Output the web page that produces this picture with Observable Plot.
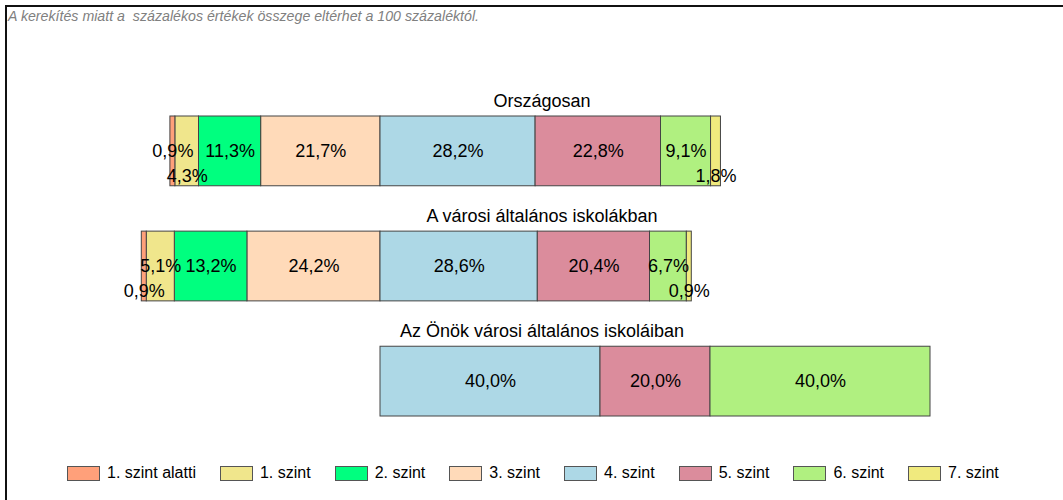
<!DOCTYPE html>
<html><head><meta charset="utf-8">
<script src="https://cdn.jsdelivr.net/npm/d3@7"></script>
<script src="https://cdn.jsdelivr.net/npm/@observablehq/plot@0.6"></script>
<style>
body{margin:0;background:#fff;font-family:"Liberation Sans",Arial,sans-serif;}
#wrap{position:relative;width:1063px;height:500px;overflow:hidden;background:#fff;}
#frame{position:absolute;left:5px;top:5px;width:1100px;height:600px;border-top:2px solid #111;border-left:2px solid #111;}
#note{position:absolute;left:8px;top:8px;font-size:14.2px;font-style:italic;color:#808080;white-space:pre;}
#chart{position:absolute;left:0;top:0;}
#legend{position:absolute;left:67px;top:464px;display:flex;gap:24px;font-size:16px;color:#000;}
.item{display:flex;align-items:center;}
.sw{width:31px;height:13px;border:1px solid #555;margin-right:7px;}
</style></head><body>
<div id="wrap">
<div id="frame"></div>
<div id="note">A kerekítés miatt a  százalékos értékek összege eltérhet a 100 százaléktól.</div>
<div id="chart"></div>
<div id="legend"></div>
</div>
<script>
const categories = ["1. szint alatti","1. szint","2. szint","3. szint","4. szint","5. szint","6. szint","7. szint"];
const colors = ["#FFA07A","#F0E68C","#00FF7F","#FFDAB9","#ADD8E6","#DB8C9C","#B0F080","#F0EA7E"];
const groups = ["Országosan","A városi általános iskolákban","Az Önök városi általános iskoláiban"];
const orszagosan = [0.9, 4.3, 11.3, 21.7, 28.2, 22.8, 9.1, 1.8];
const varosi = [0.9, 5.1, 13.2, 24.2, 28.6, 20.4, 6.7, 0.9];
const onok = [0, 0, 0, 0, 40.0, 20.0, 40.0, 0];
const seriesValues = [orszagosan, varosi, onok];

const xDomain = [-60, 100], xRange = [50, 930];
const pxPerUnit = (xRange[1]-xRange[0])/(xDomain[1]-xDomain[0]);
const fontSize = 18;
const fmt = v => v.toFixed(1).replace(".", ",") + "%";
const charW = ch => ch === "," ? 0.278 : ch === "%" ? 0.889 : 0.556;
const labelHalf = s => [...s].reduce((a,c)=>a+charW(c),0)*fontSize/2/pxPerUnit;

const segs = [];
const labels = [];
groups.forEach((g, gi) => {
  const vals = seriesValues[gi];
  // left side: levels below 4 (indices 3..0), right side: 4..7
  const sides = [[3,2,1,0,-1],[4,5,6,7,1]];
  for (const side of sides) {
    const dir = side[4];
    let pos = 0;
    let lastExtent = null;
    for (const i of side.slice(0,4)) {
      const v = vals[i];
      if (!(v > 0)) continue;
      const a = pos, b = pos + dir*v;
      pos = b;
      segs.push({group:g, cat:categories[i], x1:Math.min(a,b), x2:Math.max(a,b)});
      const label = fmt(v);
      const c = (a+b)/2, h = labelHalf(label);
      const ext = [c-h, c+h];
      let down = false;
      if (lastExtent && ext[0] < lastExtent[1] && ext[1] > lastExtent[0]) down = true;
      else lastExtent = ext;
      labels.push({group:g, xc:c, label, down});
    }
  }
});

const chart = Plot.plot({
  width: 1063, height: 450,
  marginLeft: 20, marginRight: 0, marginTop: 0, marginBottom: 0,
  x: {domain: xDomain, range: xRange, axis: null},
  y: {domain: groups, range: [116, 416], paddingInner: 0.394, paddingOuter: 0, round: false, axis: null},
  color: {domain: categories, range: colors},
  style: {fontFamily: '"Liberation Sans", Arial, sans-serif', background: "transparent"},
  marks: [
    Plot.barX(segs, {x1: "x1", x2: "x2", y: "group", fill: "cat", stroke: "#444", strokeWidth: 1}),
    Plot.text(labels.filter(d => !d.down), {x: "xc", y: "group", text: "label", fontSize, fill: "#000"}),
    Plot.text(labels.filter(d => d.down), {x: "xc", y: "group", text: "label", fontSize, fill: "#000", dy: 25}),
    Plot.text(groups, {y: d => d, text: d => d, fontSize, fill: "#000", dy: -50})
  ]
});
document.getElementById("chart").appendChild(chart);

const legend = document.getElementById("legend");
categories.forEach((c, i) => {
  const it = document.createElement("div");
  it.className = "item";
  const sw = document.createElement("div");
  sw.className = "sw";
  sw.style.background = colors[i];
  const t = document.createElement("span");
  t.textContent = c;
  it.appendChild(sw); it.appendChild(t);
  legend.appendChild(it);
});
</script>
</body></html>
